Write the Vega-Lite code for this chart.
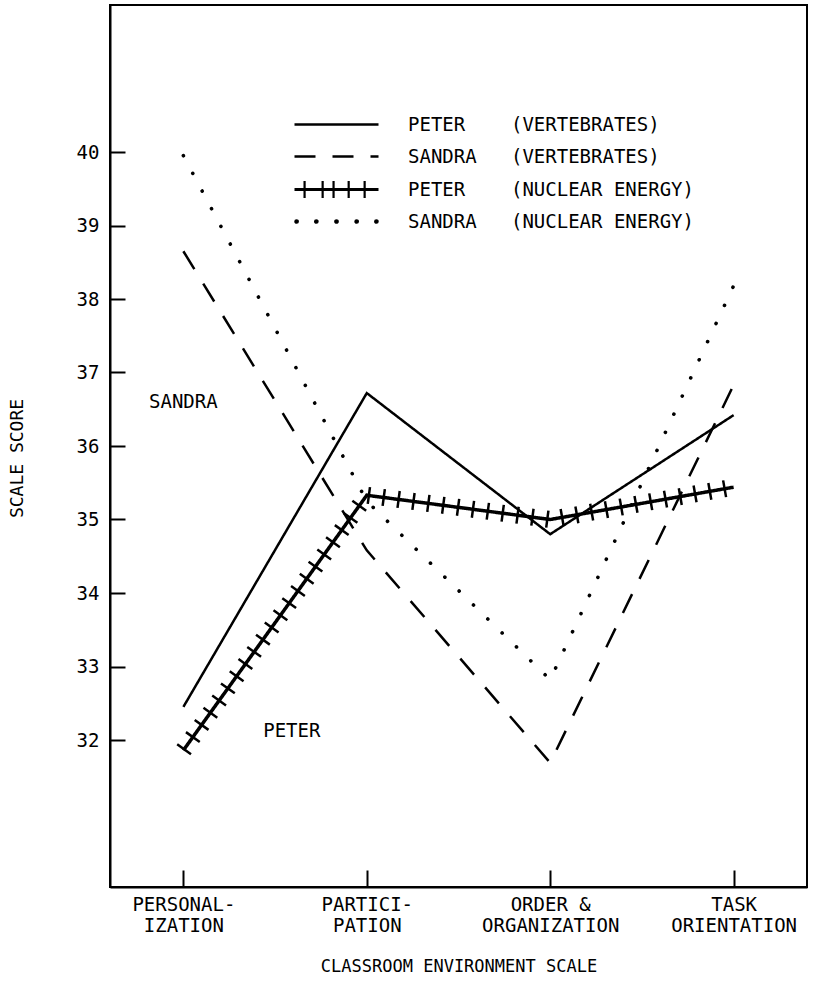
{
  "$schema": "https://vega.github.io/schema/vega-lite/v6.json",
  "width": 697,
  "height": 882,
  "autosize": {"type": "none"},
  "padding": {"left": 110, "top": 5, "right": 10, "bottom": 120},
  "background": "white",
  "config": {
    "font": "DejaVu Sans Mono",
    "view": {"stroke": "black", "strokeWidth": 2},
    "axis": {
      "domainColor": "black", "domainWidth": 2,
      "tickColor": "black", "tickWidth": 2,
      "labelColor": "black", "titleColor": "black",
      "labelFont": "DejaVu Sans Mono", "titleFont": "DejaVu Sans Mono",
      "titleFontWeight": "normal", "grid": false
    },
    "legend": {
      "orient": "none",
      "title": null,
      "padding": 0,
      "symbolSize": 7056,
      "symbolType": "M-1,0H1",
      "symbolStrokeColor": "black",
      "labelOffset": 28,
      "labelFontSize": 19,
      "labelFont": "DejaVu Sans Mono",
      "labelColor": "black",
      "labelLimit": 400
    },
    "line": {"color": "black"},
    "text": {"color": "black"}
  },
  "datasets": {
    "scores": [
      {"series": "PETER (VERTEBRATES)", "scale": "PERSONALIZATION", "score": 32.45},
      {"series": "PETER (VERTEBRATES)", "scale": "PARTICIPATION", "score": 36.72},
      {"series": "PETER (VERTEBRATES)", "scale": "ORDER & ORGANIZATION", "score": 34.8},
      {"series": "PETER (VERTEBRATES)", "scale": "TASK ORIENTATION", "score": 36.42},
      {"series": "SANDRA (VERTEBRATES)", "scale": "PERSONALIZATION", "score": 38.65},
      {"series": "SANDRA (VERTEBRATES)", "scale": "PARTICIPATION", "score": 34.58},
      {"series": "SANDRA (VERTEBRATES)", "scale": "ORDER & ORGANIZATION", "score": 31.69},
      {"series": "SANDRA (VERTEBRATES)", "scale": "TASK ORIENTATION", "score": 36.83},
      {"series": "PETER (NUCLEAR ENERGY)", "scale": "PERSONALIZATION", "score": 31.86},
      {"series": "PETER (NUCLEAR ENERGY)", "scale": "PARTICIPATION", "score": 35.33},
      {"series": "PETER (NUCLEAR ENERGY)", "scale": "ORDER & ORGANIZATION", "score": 35.0},
      {"series": "PETER (NUCLEAR ENERGY)", "scale": "TASK ORIENTATION", "score": 35.44},
      {"series": "SANDRA (NUCLEAR ENERGY)", "scale": "PERSONALIZATION", "score": 39.95},
      {"series": "SANDRA (NUCLEAR ENERGY)", "scale": "PARTICIPATION", "score": 35.25},
      {"series": "SANDRA (NUCLEAR ENERGY)", "scale": "ORDER & ORGANIZATION", "score": 32.82},
      {"series": "SANDRA (NUCLEAR ENERGY)", "scale": "TASK ORIENTATION", "score": 38.18}
    ],
    "notes": [
      {"name": "SANDRA", "scale": "PERSONALIZATION", "score": 36.6},
      {"name": "PETER", "scale": "PARTICIPATION", "score": 32.12}
    ]
  },
  "encoding": {
    "x": {
      "field": "scale", "type": "nominal",
      "sort": ["PERSONALIZATION", "PARTICIPATION", "ORDER & ORGANIZATION", "TASK ORIENTATION"],
      "scale": {"type": "point", "padding": 0.4},
      "axis": {
        "title": "CLASSROOM ENVIRONMENT SCALE",
        "labelAngle": 0,
        "tickSize": -17,
        "labelPadding": 25,
        "labelFontSize": 19,
        "labelLineHeight": 21,
        "labelOverlap": false,
        "labelExpr": "datum.label == 'PERSONALIZATION' ? ['PERSONAL-', 'IZATION'] : datum.label == 'PARTICIPATION' ? ['PARTICI-', 'PATION'] : datum.label == 'ORDER & ORGANIZATION' ? ['ORDER &', 'ORGANIZATION'] : ['TASK', 'ORIENTATION']",
        "titleFontSize": 17,
        "titlePadding": 23
      }
    },
    "y": {
      "field": "score", "type": "quantitative",
      "scale": {"domain": [30, 42], "nice": false, "zero": false},
      "axis": {
        "title": "SCALE SCORE",
        "values": [32, 33, 34, 35, 36, 37, 38, 39, 40],
        "tickSize": -15,
        "labelPadding": 26,
        "labelFontSize": 19,
        "titleFontSize": 18,
        "titlePadding": 50,
        "titleY": 453
      }
    }
  },
  "resolve": {
    "scale": {"strokeDash": "independent", "color": "independent"},
    "legend": {"strokeDash": "independent", "color": "independent"}
  },
  "layer": [
    {
      "data": {"name": "scores"},
      "transform": [{"filter": "datum.series == 'PETER (VERTEBRATES)'"}],
      "mark": {"type": "line", "strokeWidth": 2.5, "strokeCap": "butt", "strokeJoin": "miter"},
      "encoding": {
        "strokeDash": {
          "field": "series", "type": "nominal",
          "scale": {"range": [[1, 0]]},
          "legend": {
            "legendX": 183, "legendY": 76,
            "symbolStrokeWidth": 2.5,
            "labelExpr": "replace(datum.label, ' (', '\u00a0\u00a0\u00a0\u00a0(')"
          }
        }
      }
    },
    {
      "data": {"name": "scores"},
      "transform": [{"filter": "datum.series == 'SANDRA (VERTEBRATES)'"}],
      "mark": {"type": "line", "strokeWidth": 2.5, "strokeCap": "butt", "strokeJoin": "miter"},
      "encoding": {
        "strokeDash": {
          "field": "series", "type": "nominal",
          "scale": {"range": [[21, 17]]},
          "legend": {
            "legendX": 183, "legendY": 108,
            "symbolStrokeWidth": 2.5,
            "labelExpr": "replace(datum.label, ' (', '\u00a0\u00a0\u00a0(')"
          }
        }
      }
    },
    {
      "data": {"name": "scores"},
      "transform": [{"filter": "datum.series == 'PETER (NUCLEAR ENERGY)'"}],
      "mark": {"type": "line", "strokeWidth": 3.5, "strokeJoin": "miter"},
      "encoding": {
        "strokeDash": {
          "field": "series", "type": "nominal",
          "scale": {"range": [[1, 0]]},
          "legend": {
            "legendX": 183, "legendY": 141,
            "symbolStrokeWidth": 3,
            "labelExpr": "replace(datum.label, ' (', '\u00a0\u00a0\u00a0\u00a0(')"
          }
        }
      }
    },
    {
      "data": {"name": "scores"},
      "transform": [{"filter": "datum.series == 'PETER (NUCLEAR ENERGY)'"}],
      "mark": {"type": "line", "strokeWidth": 17, "strokeDash": [2.5, 12.5], "strokeCap": "butt", "strokeJoin": "bevel"},
      "encoding": {
        "color": {
          "field": "series", "type": "nominal",
          "scale": {"range": ["black"]},
          "legend": {
            "legendX": 183, "legendY": 141,
            "symbolType": "M-0.76,-0.2V0.2M-0.33,-0.2V0.2M-0.07,-0.2V0.2M0.29,-0.2V0.2M0.67,-0.2V0.2",
            "symbolStrokeWidth": 2.2,
            "labelExpr": "''"
          }
        }
      }
    },
    {
      "data": {"name": "scores"},
      "transform": [{"filter": "datum.series == 'SANDRA (NUCLEAR ENERGY)'"}],
      "mark": {"type": "line", "strokeWidth": 3.6, "strokeDash": [0.1, 19.9], "strokeCap": "round"},
      "encoding": {
        "color": {
          "field": "series", "type": "nominal",
          "scale": {"range": ["black"]},
          "legend": {
            "legendX": 183, "legendY": 173,
            "symbolType": "M-0.98,0a0.03,0.03 0 1,0 0.06,0a0.03,0.03 0 1,0 -0.06,0M-0.51,0a0.03,0.03 0 1,0 0.06,0a0.03,0.03 0 1,0 -0.06,0M-0.03,0a0.03,0.03 0 1,0 0.06,0a0.03,0.03 0 1,0 -0.06,0M0.45,0a0.03,0.03 0 1,0 0.06,0a0.03,0.03 0 1,0 -0.06,0M0.92,0a0.03,0.03 0 1,0 0.06,0a0.03,0.03 0 1,0 -0.06,0",
            "symbolStrokeWidth": 2.2,
            "symbolFillColor": "black",
            "labelExpr": "replace(datum.label, ' (', '\u00a0\u00a0\u00a0(')"
          }
        }
      }
    },
    {
      "data": {"name": "notes"},
      "transform": [{"filter": "datum.name == 'SANDRA'"}],
      "mark": {"type": "text", "fontSize": 19, "font": "DejaVu Sans Mono", "align": "center", "baseline": "middle"},
      "encoding": {"text": {"field": "name"}}
    },
    {
      "data": {"name": "notes"},
      "transform": [{"filter": "datum.name == 'PETER'"}],
      "mark": {"type": "text", "fontSize": 19, "font": "DejaVu Sans Mono", "align": "center", "baseline": "middle", "dx": -75},
      "encoding": {"text": {"field": "name"}}
    }
  ]
}
